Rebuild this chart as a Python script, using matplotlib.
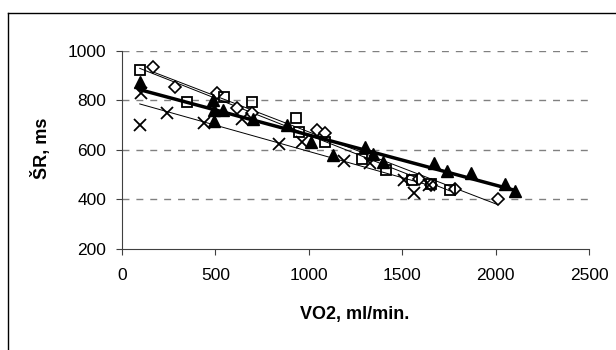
import numpy as np
import matplotlib
matplotlib.use("Agg")
import matplotlib.pyplot as plt
from matplotlib.lines import Line2D

plt.rcParams['font.family'] = ['Liberation Sans', 'DejaVu Sans']

# diamonds
vo2_d = [164, 286, 511, 614, 698, 1045, 1087, 1592, 1655, 1781, 2012]
sr_d = [936, 853, 830, 768, 747, 680, 668, 484, 459, 442, 400]
# squares
vo2_s = [95, 347, 545, 698, 934, 950, 1087, 1287, 1413, 1554, 1655, 1756]
sr_s = [923, 792, 815, 795, 730, 673, 630, 565, 517, 477, 461, 439]
# triangles
vo2_t = [95, 485, 490, 495, 540, 700, 885, 1010, 1130, 1300, 1345, 1395,
         1670, 1740, 1870, 2050, 2105]
sr_t = [875, 800, 760, 715, 760, 725, 700, 630, 580, 612, 585, 550,
        545, 515, 505, 462, 432]
# crosses
vo2_x = [95, 100, 240, 440, 640, 840, 965, 1190, 1330, 1510, 1565, 1645]
sr_x = [700, 830, 748, 708, 725, 625, 630, 555, 545, 480, 425, 458]

fig = plt.figure(figsize=(6.16, 3.5), dpi=100)
ax = fig.add_axes([122 / 616, 1 - 249 / 350, 467 / 616, 198.3 / 350])

ax.set_xlim(0, 2500)
ax.set_ylim(200, 1000)
ax.set_xticks([0, 500, 1000, 1500, 2000, 2500])
ax.set_yticks([200, 400, 600, 800, 1000])
for y in [400, 600, 800, 1000]:
    ax.axhline(y, color='#808080', lw=1, ls=(0, (5, 5)), zorder=0)

series = [
    (vo2_d, sr_d, dict(marker='D', ms=6, mfc='white', mec='black', mew=1.2), 0.7),
    (vo2_s, sr_s, dict(marker='s', ms=7.5, mfc='none', mec='black', mew=1.3), 0.7),
    (vo2_x, sr_x, dict(marker='x', ms=8, mec='black', mew=1.3), 0.7),
    (vo2_t, sr_t, dict(marker='^', ms=8, mfc='black', mec='black'), 2.5),
]
for xs, ys, style, lw in series:
    xs = np.array(xs)
    ys = np.array(ys)
    k, b = np.polyfit(xs, ys, 1)
    xl = np.array([xs.min(), xs.max()])
    ax.plot(xl, k * xl + b, color='black', lw=lw, zorder=2)
    ax.plot(xs, ys, ls='none', zorder=3, **style)

for s in ['top', 'right']:
    ax.spines[s].set_visible(False)
for s in ['left', 'bottom']:
    ax.spines[s].set_color('#404040')
ax.tick_params(direction='out', length=4.5, color='#404040', labelsize=12.5,
               labelcolor='black')
ax.tick_params(axis='x', pad=9.5)
ax.tick_params(axis='y', pad=7)
ax.set_xlabel('VO2, ml/min.', fontsize=13, fontweight='bold', va='center')
ax.set_ylabel('ŠR, ms', fontsize=13, fontweight='bold', va='center')
ax.xaxis.set_label_coords((355 - 122) / 467, (249 - 315) / 198.3)
ax.yaxis.set_label_coords((41 - 122) / 467, (249 - 148) / 198.3)

# outer chart frame
fig.add_artist(Line2D([8 / 616, 8 / 616], [0, 1 - 13 / 350], color='black', lw=1))
fig.add_artist(Line2D([8 / 616, 1], [1 - 13 / 350, 1 - 13 / 350], color='black', lw=1))

fig.savefig('out.png', dpi=100)
